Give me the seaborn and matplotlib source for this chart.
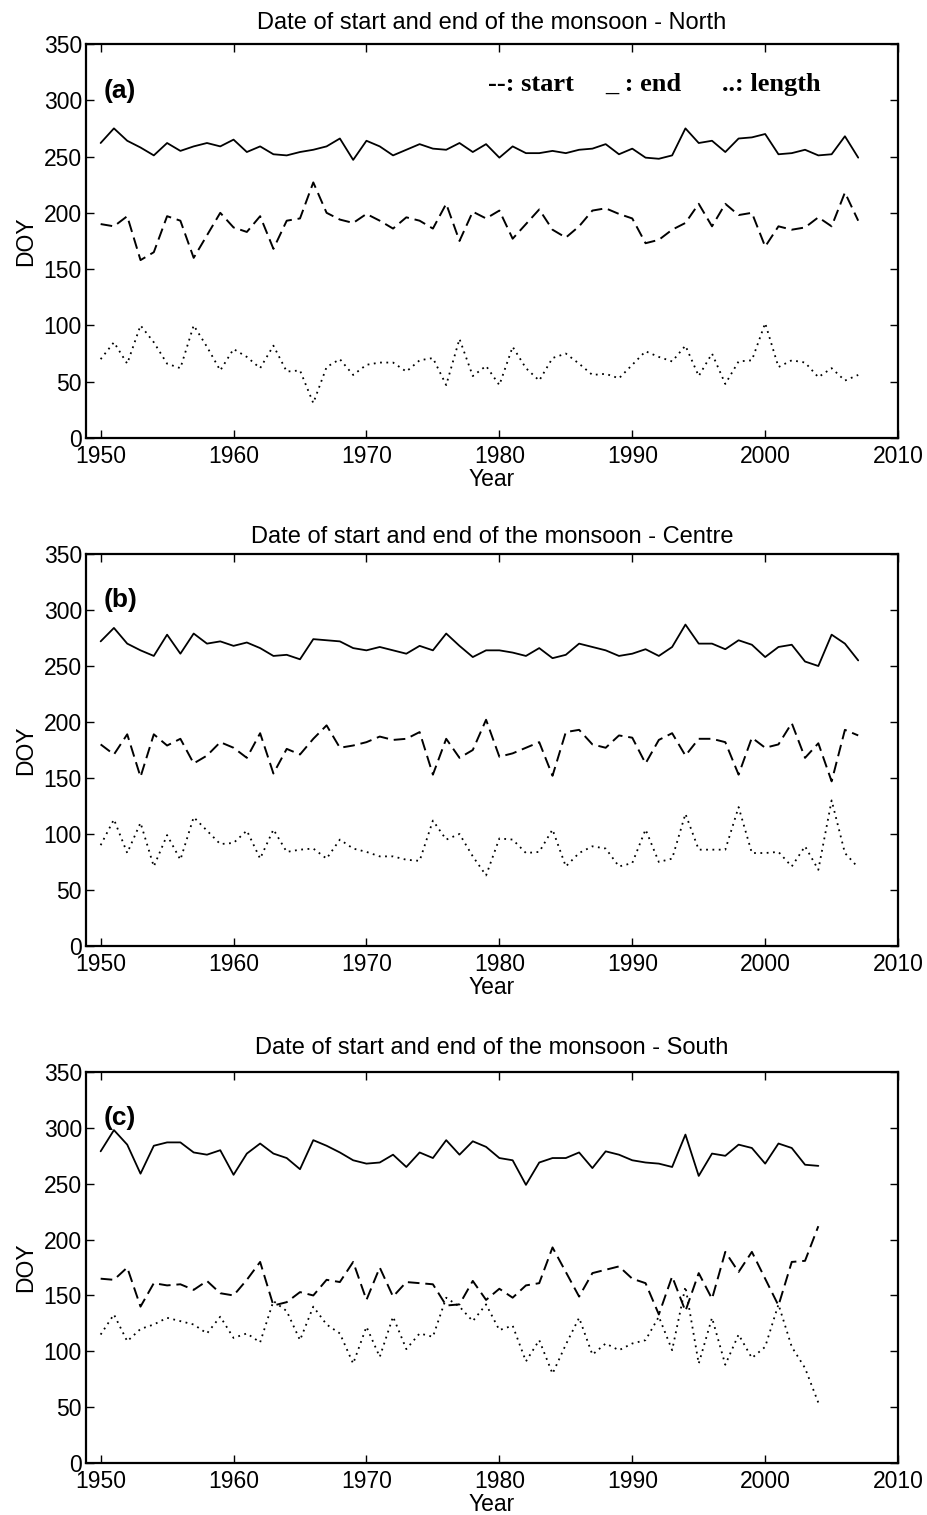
import numpy as np
import pandas as pd
import matplotlib
matplotlib.use("Agg")
from matplotlib import pyplot as plt
import seaborn as sns

# years
years_nc = list(range(1950, 2008))
years_s = list(range(1950, 2005))

# North (DOY)
north_end = [262, 275, 264, 258, 251, 262, 255, 259, 262, 259,
             265, 254, 259, 252, 251, 254, 256, 259, 266, 247,
             264, 259, 251, 256, 261, 257, 256, 262, 254, 261,
             249, 259, 253, 253, 255, 253, 256, 257, 261, 252,
             257, 249, 248, 251, 275, 262, 264, 254, 266, 267,
             270, 252, 253, 256, 251, 252, 268, 249]
north_start = [190, 188, 197, 158, 165, 197, 193, 160, 180, 200,
               187, 183, 197, 168, 193, 195, 227, 200, 194, 191,
               199, 193, 186, 196, 193, 186, 208, 175, 201, 195,
               202, 177, 190, 203, 185, 178, 188, 202, 204, 199,
               195, 173, 176, 185, 191, 208, 188, 208, 198, 200,
               170, 188, 185, 187, 196, 188, 218, 193]
north_length = [70, 85, 66, 100, 85, 66, 62, 100, 81, 60,
                79, 72, 62, 82, 59, 60, 31, 63, 70, 56,
                65, 67, 67, 59, 69, 71, 47, 88, 55, 64,
                47, 81, 62, 51, 71, 75, 66, 56, 57, 53,
                65, 77, 72, 68, 82, 55, 75, 48, 68, 69,
                102, 63, 69, 67, 54, 62, 51, 56]

# Centre
centre_end = [272, 284, 270, 264, 259, 278, 261, 279, 270, 272,
              268, 271, 266, 259, 260, 256, 274, 273, 272, 266,
              264, 267, 264, 261, 268, 264, 279, 268, 258, 264,
              264, 262, 259, 266, 257, 260, 270, 267, 264, 259,
              261, 265, 259, 267, 287, 270, 270, 265, 273, 269,
              258, 267, 269, 254, 250, 278, 270, 255]
centre_start = [180, 171, 189, 151, 189, 179, 185, 163, 170, 182,
                177, 168, 190, 154, 176, 171, 185, 197, 177, 179,
                182, 187, 184, 185, 191, 153, 185, 168, 175, 202,
                169, 172, 177, 182, 152, 191, 193, 180, 177, 188,
                186, 163, 184, 190, 170, 185, 185, 182, 153, 186,
                177, 180, 199, 168, 181, 147, 193, 188]
centre_length = [90, 113, 83, 110, 71, 99, 77, 115, 103, 91,
                 92, 103, 78, 104, 84, 86, 87, 78, 95, 87,
                 84, 80, 80, 77, 76, 112, 95, 100, 80, 63,
                 96, 95, 83, 84, 104, 71, 83, 89, 87, 71,
                 74, 104, 75, 78, 118, 86, 86, 86, 124, 83,
                 83, 84, 71, 89, 68, 130, 83, 70]

# South
south_end = [279, 298, 285, 259, 284, 287, 287, 278, 276, 280,
             258, 277, 286, 277, 273, 263, 289, 284, 278, 271,
             268, 269, 276, 265, 278, 273, 289, 276, 288, 283,
             273, 271, 249, 269, 273, 273, 278, 264, 279, 276,
             271, 269, 268, 265, 294, 257, 277, 275, 285, 282,
             268, 286, 282, 267, 266]
south_start = [165, 164, 175, 140, 161, 159, 160, 155, 163, 152,
               150, 164, 180, 141, 144, 153, 150, 164, 162, 180,
               146, 175, 149, 162, 161, 160, 141, 142, 163, 146,
               156, 148, 159, 161, 193, 171, 149, 170, 173, 176,
               165, 161, 133, 167, 136, 170, 147, 189, 171, 189,
               165, 141, 180, 181, 212]
south_length = [115, 133, 109, 120, 124, 130, 127, 124, 116, 131,
                112, 116, 108, 145, 136, 110, 140, 124, 116, 89,
                122, 95, 131, 102, 116, 113, 148, 140, 127, 142,
                119, 123, 91, 110, 80, 106, 130, 97, 107, 101,
                107, 110, 131, 101, 158, 89, 130, 88, 115, 94,
                104, 142, 104, 85, 54]

panels = [
    ('North', '(a)', years_nc, north_end, north_start, north_length),
    ('Centre', '(b)', years_nc, centre_end, centre_start, centre_length),
    ('South', '(c)', years_s, south_end, south_start, south_length),
]

sns.set_style("ticks")
plt.rcParams['font.family'] = ['Liberation Sans', 'DejaVu Sans']
plt.rcParams['text.color'] = 'black'
plt.rcParams['axes.labelcolor'] = 'black'
plt.rcParams['xtick.color'] = 'black'
plt.rcParams['ytick.color'] = 'black'

fig = plt.figure(figsize=(9.27, 15.15), dpi=100)
boxes = [[0.0928, 0.7109, 0.876, 0.2601],
         [0.0928, 0.3756, 0.876, 0.2587],
         [0.0928, 0.0343, 0.876, 0.2581]]
title_pads = [11, 8, 13]

for box, tpad, (region, tag, yrs, end, start, length) in zip(boxes, title_pads, panels):
    ax = fig.add_axes(box)
    df = pd.DataFrame({'Year': yrs, 'end': end, 'start': start, 'length': length})
    sns.lineplot(data=df, x='Year', y='end', ax=ax, color='black', lw=1.3)
    sns.lineplot(data=df, x='Year', y='start', ax=ax, color='black', lw=1.4,
                 linestyle=(0, (6, 3)))
    sns.lineplot(data=df, x='Year', y='length', ax=ax, color='black', lw=1.3,
                 linestyle=(0, (1, 2.5)))
    ax.set_xlim(1948.9, 2010)
    ax.set_ylim(0, 350)
    ax.set_xticks(range(1950, 2011, 10))
    ax.set_yticks(range(0, 351, 50))
    ax.tick_params(direction='in', top=True, right=True, length=6, width=1,
                   labelsize=16.5, pad=3)
    ax.tick_params(axis='x', pad=5)
    for sp in ax.spines.values():
        sp.set_linewidth(1.6)
        sp.set_color('black')
    ax.set_xlabel('Year', fontsize=16.5, labelpad=0)
    ax.set_ylabel('DOY', fontsize=16.5, labelpad=5)
    ax.set_title(f'Date of start and end of the monsoon - {region}', fontsize=17, pad=tpad)
    ax.text(0.022, 0.864, tag, transform=ax.transAxes, fontsize=19,
            fontweight='bold', va='baseline', ha='left')
    if tag == '(a)':
        for xpos, lab in [(0.495, '--: start'), (0.640, '_ : end'), (0.783, '..: length')]:
            ax.text(xpos, 0.8815, lab, transform=ax.transAxes, fontsize=19,
                    fontweight='bold', va='baseline', ha='left',
                    family=['Liberation Serif', 'DejaVu Serif'])

fig.savefig('out.png', dpi=100)
